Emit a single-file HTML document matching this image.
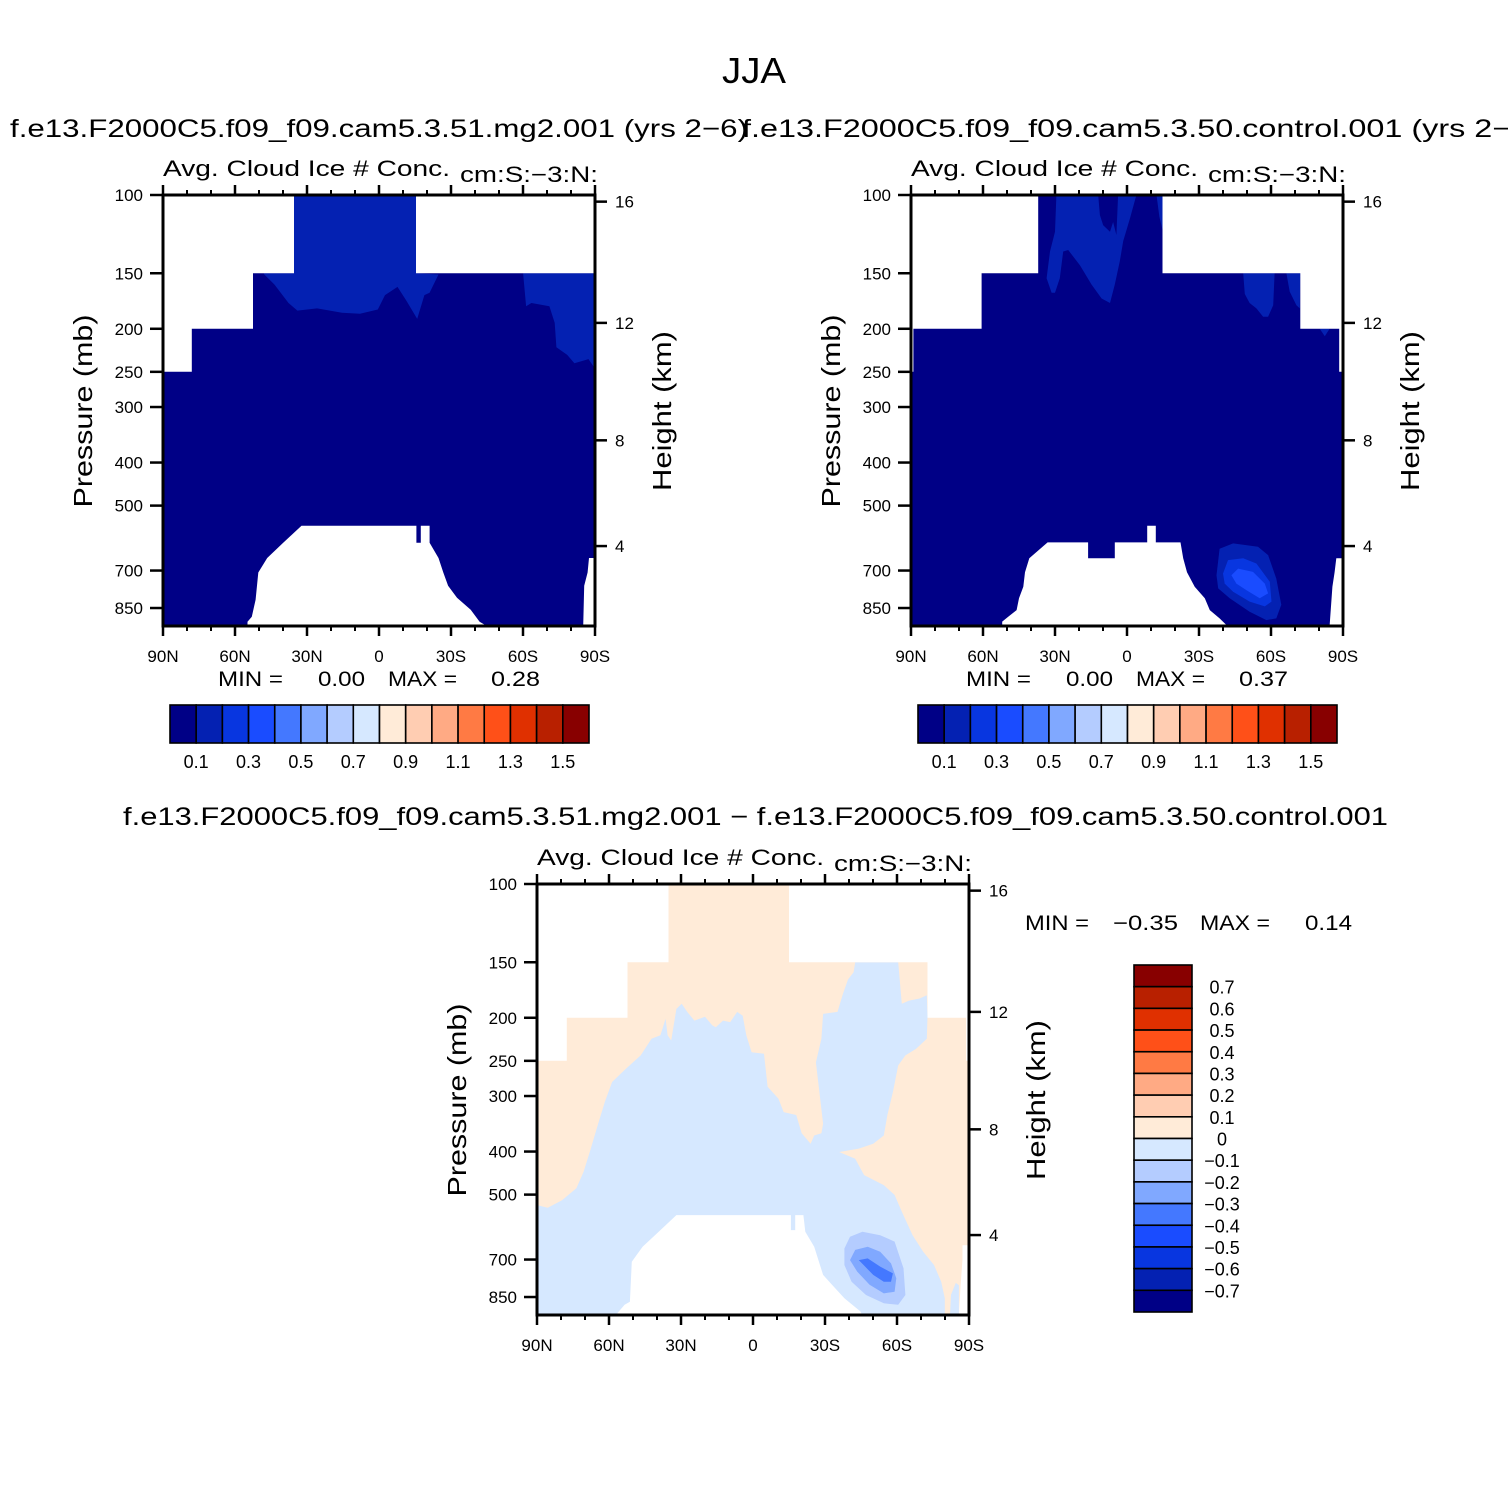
<!DOCTYPE html>
<html><head><meta charset="utf-8"><style>
html,body{margin:0;padding:0;background:#fff}
svg{display:block}
text{font-family:"Liberation Sans",sans-serif;fill:#000}
</style></head><body>
<svg id="fig" xmlns="http://www.w3.org/2000/svg" width="1508" height="1508" viewBox="0 0 1508 1508">
<rect width="1508" height="1508" fill="#fff"/>
<text x="754" y="83" font-size="36" text-anchor="middle" textLength="64" lengthAdjust="spacingAndGlyphs">JJA</text>
<text x="10" y="137" font-size="25" textLength="738" lengthAdjust="spacingAndGlyphs">f.e13.F2000C5.f09_f09.cam5.3.51.mg2.001 (yrs 2−6)</text>
<text x="742" y="137" font-size="25" textLength="798" lengthAdjust="spacingAndGlyphs">f.e13.F2000C5.f09_f09.cam5.3.50.control.001 (yrs 2−6)</text>
<text x="123" y="825" font-size="25" textLength="1265" lengthAdjust="spacingAndGlyphs">f.e13.F2000C5.f09_f09.cam5.3.51.mg2.001 − f.e13.F2000C5.f09_f09.cam5.3.50.control.001</text>
<g id="layer"></g>
</svg>
<script>
// ---------- data ----------
const latTicks = [90,60,30,0,-30,-60,-90];
const latTickLabels = ["90N","60N","30N","0","30S","60S","90S"];
const latMinor = [80,70,50,40,20,10,-10,-20,-40,-50,-70,-80];
const presTicks = [100,150,200,250,300,400,500,700,850];
const heightTicks = [16,12,8,4];
const heightTickPres = [103.5,194,356.5,616.6];
const cbColors = ["#000086","#0421b2","#0836e0","#1a4cff","#4478ff","#80a8ff","#b4ccff","#d6e8ff","#ffebd8","#ffcdb2","#ffaa84","#ff7a44","#ff5018","#e03000","#b82000","#880000"];
const cbLabels1 = ["0.1","0.3","0.5","0.7","0.9","1.1","1.3","1.5"];
const cbLabels3 = ["0.7","0.6","0.5","0.4","0.3","0.2","0.1","0","−0.1","−0.2","−0.3","−0.4","−0.5","−0.6","−0.7"];
const stats1 = ["0.00","0.28"];
const stats2 = ["0.00","0.37"];
const stats3 = ["−0.35","0.14"];

// panel 1 (lat, pressure) polygons
const p1MaskLeft = [[90,100],[35.4,100],[35.4,150],[52.5,150],[52.5,200],[78,200],[78,250],[90,250]];
const p1MaskRight = [[-15.4,100],[-90,100],[-90,150],[-15.4,150]];
const p1Ground = [[54.8,933],[54.8,913],[53,889],[51.4,814],[50.3,707],[46.6,656],[39.9,606],[32.3,555],[-15.6,555],[-15.6,606],[-17.4,606],[-17.4,555],[-21.1,555],[-21.1,606],[-24.8,656],[-26.8,707],[-28.8,757],[-32.5,806],[-38.2,858],[-41.9,913],[-44.9,933]];
const p1GroundRight = [[-85.1,933],[-85.5,757],[-86.9,707],[-87.5,656],[-90,656],[-90,933]];
const p1Level2a = [[35.4,100],[-15.4,100],[-15.4,150],[-24.8,151],[-21.1,166],[-18.9,168],[-15.9,190],[-11.4,173],[-7.7,161],[-2.5,168],[0.5,181],[7.9,185],[15.4,184],[25.8,180],[34,182],[37.7,175],[43.6,159],[47.8,151],[48,150],[35.4,150]];
const p1Level2b = [[-60.1,150],[-60.1,151],[-61.3,178],[-63.5,175],[-71,178],[-73.2,194],[-73.9,220],[-78.4,229],[-81.4,239],[-87.3,234],[-89.6,244],[-90,150]];

// panel 2
const p2MaskLeft = [[90,100],[37,100],[37,150],[60.6,150],[60.6,200],[89,200],[89,250],[90,250]];
const p2MaskRight = [[-14.8,100],[-90,100],[-90,250],[-88.4,250],[-88.4,200],[-72.2,200],[-72.2,150],[-14.8,150]];
const p2Ground = [[52,933],[52,912],[49.5,889],[46,859],[45,808],[43.2,761],[42.5,706],[40.7,657],[33.1,605],[16.2,605],[16.2,657],[5.1,657],[5.1,605],[-8.4,605],[-8.4,555],[-12,555],[-12,605],[-22.3,605],[-23.4,657],[-25,706],[-28.2,761],[-32.4,808],[-34.5,859],[-38.6,897],[-41.4,928],[-41.4,933]];
const p2GroundRight = [[-84.4,933],[-85.6,761],[-86.5,706],[-87.2,657],[-90,657],[-90,933]];
const p2Level2a = [[29.4,100],[30,121],[32.1,134],[33.5,154],[31.4,166],[30,166],[28,154],[26.6,134],[24.5,133],[19.6,144],[14.8,159],[10.6,171],[7.1,175],[5.1,159],[3,141],[1.6,127],[-1.2,113],[-3.9,100]];
const p2Level1in = [[12,100],[11.3,111],[9.9,117],[7.1,121],[5.8,115],[4.4,123],[3.7,100]];
const p2Level2b = [[-12.3,100],[-13.5,112],[-15,121],[-15,100]];
const p2Level2c = [[-48.4,150],[-49.1,167],[-51.1,175],[-53.9,180],[-56.7,188],[-58.8,188],[-60.9,177],[-61.5,150]];
const p2Level2d = [[-66.4,150],[-67.8,165],[-70.6,177],[-72,180],[-72.2,150]];
const p2Level2e = [[-80.3,200],[-82.4,208],[-84.4,200]];
const p2Blob2 = [[-37.3,717],[-38.6,625],[-44.2,608],[-54.6,619],[-58.8,646],[-62.2,730],[-64.3,836],[-62.2,897],[-58.1,905],[-51.1,867],[-42.8,808],[-38,768]];
const p2Blob3 = [[-40,711],[-42.1,663],[-48.4,657],[-53.9,675],[-59.5,742],[-60.2,822],[-57.4,843],[-51.1,822],[-44.2,781],[-40.7,749]];
const p2Blob4 = [[-43.5,717],[-46.3,693],[-52.5,705],[-57.4,749],[-58.8,788],[-55.3,808],[-49.8,775],[-45.6,749]];

// panel 3 (difference)
const p3MaskLeft = [[90,100],[35.2,100],[35.2,150],[52.3,150],[52.3,200],[77.6,200],[77.6,250],[90,250]];
const p3MaskRight = [[-15,100],[-90,100],[-90,250],[-88.8,250],[-88.8,200],[-72.7,200],[-72.7,150],[-15,150]];
const p3Ground = [[56.5,933],[56.5,924],[53.5,885],[51.3,871],[50.5,708],[46,655],[39.3,606],[31.9,556],[-15.8,556],[-15.8,601],[-17.6,601],[-17.6,556],[-21,556],[-21.8,606],[-25.5,655],[-29.2,758],[-32.9,798],[-38.1,855],[-44.8,916],[-45.5,933]];
const p3GroundRight = [[-87.3,650],[-90,650],[-90,933],[-85.8,933],[-86.5,800],[-87.3,700]];
const p3Neg = [[90,933],[90,528],[85.5,535],[79.6,515],[73.6,484],[70.6,444],[67.6,394],[64.7,349],[61.7,309],[58.7,279],[52.8,260],[46.8,243],[42.3,223],[38.6,219],[36.4,201],[35.6,219],[34.1,225],[31.9,191],[29.7,186],[27.4,194],[24.4,203],[20,199],[17,208],[15.5,210],[12.5,203],[9.5,204.5],[6.6,194],[4.3,198],[2.8,219],[0.6,239],[-4.6,241],[-5.4,265],[-6.1,286],[-10.6,304],[-12.8,326],[-18,331],[-20.3,364],[-24,384],[-25.5,368],[-28.5,364],[-29.2,346],[-26.2,252],[-28.5,223],[-29.2,196],[-35.2,194],[-37.4,177],[-39.6,164],[-41.9,158],[-42.6,150],[-60.5,150],[-62,186],[-65,183],[-69.4,181],[-72.4,178],[-72.7,199],[-72.4,223],[-67.9,235],[-63.5,243],[-60.5,256],[-58.3,294],[-56,331],[-54.5,368],[-50.1,384],[-44.1,394],[-35.9,401],[-42.6,415],[-46.3,452],[-54.5,476],[-59,501],[-62,546],[-66.5,617],[-70.9,672],[-75.4,720],[-78.4,785],[-79.9,855],[-79.9,933]];
const p3NegSliver = [[-82.1,933],[-82.5,840],[-84.5,790],[-85.8,800],[-85.8,933]];
const p3Blob1 = [[-38.1,661],[-40.4,622],[-45.6,606],[-53,617],[-59,638],[-62.7,732],[-63.5,841],[-60.5,885],[-54.5,878],[-47.1,841],[-41.1,785],[-38.1,720]];
const p3Blob2 = [[-40.4,702],[-42.6,666],[-47.8,655],[-53,672],[-57.5,714],[-59.7,771],[-59,827],[-54.5,834],[-48.6,798],[-43.4,745]];
const p3Blob3 = [[-44.1,702],[-47.8,696],[-53,726],[-58.3,752],[-57.5,785],[-54.5,785],[-50.1,758]];

// ---------- drawing ----------
const NS = "http://www.w3.org/2000/svg";
const layer = document.getElementById("layer");
const W = 432, H = 431, PTOP = 100, PBOT = 933;
function mk(tag, attrs, parent) {
  const e = document.createElementNS(NS, tag);
  for (const k in attrs) e.setAttribute(k, attrs[k]);
  (parent || layer).appendChild(e);
  return e;
}
function txt(s, attrs, parent) { const t = mk("text", attrs, parent); t.textContent = s; return t; }

function panel(id, x0, y0, fills, cfg) {
  const xOf = lat => x0 + (90 - lat) / 180 * W;
  const yOf = p => y0 + H * Math.log(p / PTOP) / Math.log(PBOT / PTOP);
  const g = mk("g", {});
  
  
  const cp = mk("clipPath", {id: id + "-clip"}, g);
  mk("rect", {x: x0, y: y0, width: W, height: H}, cp);
  const plot = mk("g", {"clip-path": "url(#" + id + "-clip)"}, g);
  const base = mk("rect", {x: x0, y: y0, width: W, height: H, fill: cfg.base}, plot);
  
  
  fills.forEach(f => {
    const pts = f.poly.map(q => xOf(q[0]).toFixed(1) + "," + yOf(q[1]).toFixed(1)).join(" ");
    const pg = mk("polygon", {points: pts, fill: f.color}, plot);
    
    
  });
  const b = mk("rect", {x: x0, y: y0, width: W, height: H, fill: "none", stroke: "#000", "stroke-width": 3}, g);
  
  
  latTicks.forEach((lat, i) => {
    const x = xOf(lat);
    mk("line", {x1: x, x2: x, y1: y0, y2: y0 - 10, stroke: "#000", "stroke-width": 2.5}, g);
    mk("line", {x1: x, x2: x, y1: y0 + H, y2: y0 + H + 10, stroke: "#000", "stroke-width": 2.5}, g);
    const t = txt(latTickLabels[i], {x: x, y: y0 + H + 36, "font-size": 17, "text-anchor": "middle"}, g);
    
    
  });
  latMinor.forEach(lat => {
    const x = xOf(lat);
    mk("line", {x1: x, x2: x, y1: y0, y2: y0 - 5, stroke: "#000", "stroke-width": 2}, g);
    mk("line", {x1: x, x2: x, y1: y0 + H, y2: y0 + H + 5, stroke: "#000", "stroke-width": 2}, g);
  });
  presTicks.forEach(p => {
    const y = yOf(p);
    mk("line", {x1: x0 - 13, x2: x0, y1: y, y2: y, stroke: "#000", "stroke-width": 2.5}, g);
    const t = txt(String(p), {x: x0 - 20, y: y + 6, "font-size": 17, "text-anchor": "end"}, g);
    
    
  });
  heightTicks.forEach((h, i) => {
    const y = yOf(heightTickPres[i]);
    mk("line", {x1: x0 + W, x2: x0 + W + 12, y1: y, y2: y, stroke: "#000", "stroke-width": 2.5}, g);
    const t = txt(String(h), {x: x0 + W + 20, y: y + 6, "font-size": 17}, g);
    
    
  });
  const a = txt("Avg. Cloud Ice # Conc.", {x: x0, y: y0 - 19, "font-size": 22, textLength: 287, lengthAdjust: "spacingAndGlyphs"}, g);
  
  
  const u = txt("cm:S:−3:N:", {x: x0 + 297, y: y0 - 13, "font-size": 22, textLength: 138, lengthAdjust: "spacingAndGlyphs"}, g);
  
  
  const yl = txt("Pressure (mb)", {x: 0, y: 0, "font-size": 26, "text-anchor": "middle", textLength: 193, lengthAdjust: "spacingAndGlyphs", transform: "translate(" + (x0 - 71) + "," + (y0 + 216) + ") rotate(-90)"}, g);
  
  
  const hl = txt("Height (km)", {x: 0, y: 0, "font-size": 26, "text-anchor": "middle", textLength: 160, lengthAdjust: "spacingAndGlyphs", transform: "translate(" + (x0 + W + 76) + "," + (y0 + 216) + ") rotate(-90)"}, g);
  
  
  return g;
}

function stats(x, y, vals, offs, lens) {
  const parts = ["MIN =", vals[0], "MAX =", vals[1]];
  parts.forEach((s, i) => {
    const t = txt(s, {x: x + offs[i], y: y, "font-size": 21, textLength: lens[i], lengthAdjust: "spacingAndGlyphs"});
    
    
  });
}

function hColorbar(x0, y0) {
  const g = mk("g", {});
  
  
  const bw = 419 / cbColors.length;
  cbColors.forEach((c, i) => {
    const r = mk("rect", {x: x0 + i * bw, y: y0, width: bw, height: 38, fill: c, stroke: "#000", "stroke-width": 1.6}, g);
    
    
  });
  cbLabels1.forEach((s, i) => {
    const t = txt(s, {x: x0 + (2 * i + 1) * bw, y: y0 + 63, "font-size": 18, "text-anchor": "middle"}, g);
    
    
  });
}

function vColorbar(x0, y0) {
  const g = mk("g", {});
  
  
  const bh = 347 / cbColors.length;
  const rev = cbColors.slice().reverse();
  rev.forEach((c, i) => {
    const r = mk("rect", {x: x0, y: y0 + i * bh, width: 58, height: bh, fill: c, stroke: "#000", "stroke-width": 1.6}, g);
    
    
  });
  cbLabels3.forEach((s, i) => {
    const t = txt(s, {x: x0 + 88, y: y0 + (i + 1) * bh + 7, "font-size": 18, "text-anchor": "middle"}, g);
    
    
  });
}

const C = cbColors;
panel("panel1", 163, 195, [
  {poly: p1Level2a, color: C[1], name: "ice-level-0.1-region"},
  {poly: p1Level2b, color: C[1], name: "ice-level-0.1-region"},
  {poly: p1MaskLeft, color: "#fff", name: "missing-data-mask"},
  {poly: p1MaskRight, color: "#fff", name: "missing-data-mask"},
  {poly: p1Ground, color: "#fff", name: "surface-mask"},
  {poly: p1GroundRight, color: "#fff", name: "surface-mask"}
], {base: C[0]});
panel("panel2", 911, 195, [
  {poly: p2Level2a, color: C[1], name: "ice-level-0.1-region"},
  {poly: p2Level1in, color: C[0], name: "ice-level-0-region"},
  {poly: p2Level2b, color: C[1], name: "ice-level-0.1-region"},
  {poly: p2Level2c, color: C[1], name: "ice-level-0.1-region"},
  {poly: p2Level2d, color: C[1], name: "ice-level-0.1-region"},
  {poly: p2Level2e, color: C[1], name: "ice-level-0.1-region"},
  {poly: p2Blob2, color: C[1], name: "ice-level-0.1-region"},
  {poly: p2Blob3, color: C[2], name: "ice-level-0.2-region"},
  {poly: p2Blob4, color: C[3], name: "ice-level-0.3-region"},
  {poly: p2MaskLeft, color: "#fff", name: "missing-data-mask"},
  {poly: p2MaskRight, color: "#fff", name: "missing-data-mask"},
  {poly: p2Ground, color: "#fff", name: "surface-mask"},
  {poly: p2GroundRight, color: "#fff", name: "surface-mask"}
], {base: C[0]});
panel("panel3", 537, 884, [
  {poly: p3Neg, color: C[7], name: "diff-negative-region"},
  {poly: p3NegSliver, color: C[7], name: "diff-negative-region"},
  {poly: p3Blob1, color: C[6], name: "diff-level-minus0.1-region"},
  {poly: p3Blob2, color: C[5], name: "diff-level-minus0.2-region"},
  {poly: p3Blob3, color: C[4], name: "diff-level-minus0.3-region"},
  {poly: p3MaskLeft, color: "#fff", name: "missing-data-mask"},
  {poly: p3MaskRight, color: "#fff", name: "missing-data-mask"},
  {poly: p3Ground, color: "#fff", name: "surface-mask"},
  {poly: p3GroundRight, color: "#fff", name: "surface-mask"}
], {base: C[8]});

stats(218, 686, stats1, [0, 100, 170, 273], [65, 47, 69, 49]);
stats(966, 686, stats2, [0, 100, 170, 273], [65, 47, 69, 49]);
stats(1025, 930, stats3, [0, 88, 175, 280], [64, 65, 70, 47]);
hColorbar(170, 705);
hColorbar(918, 705);
vColorbar(1134, 965);
</script>
</body></html>
